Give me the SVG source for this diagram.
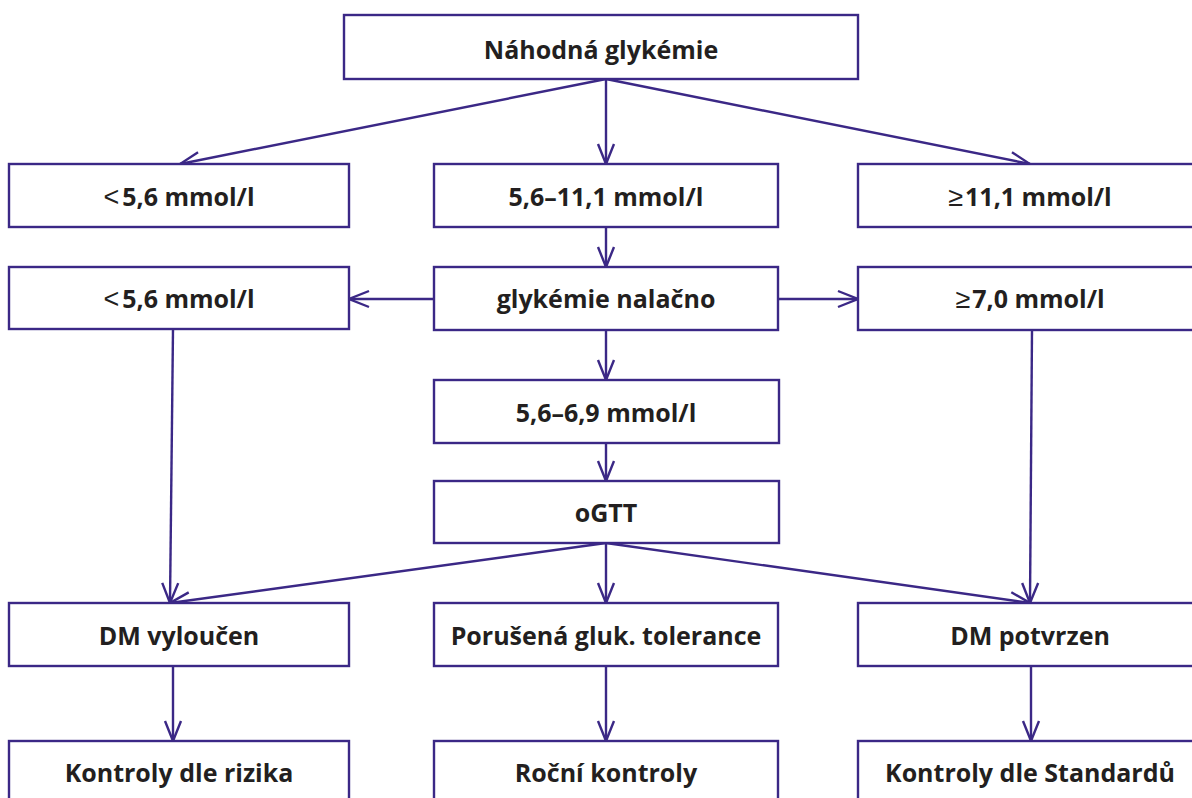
<svg xmlns="http://www.w3.org/2000/svg" width="1192" height="798" viewBox="0 0 1192 798">
<style>
.box{fill:#fff;stroke:#3b2886;stroke-width:2.4}
.t{font-family:"Open Sans","Liberation Sans",sans-serif;font-weight:700;font-size:25px;fill:#231f20;text-anchor:middle}
.sym{font-family:"Liberation Sans",sans-serif;font-weight:400;font-size:27px}
.c{fill:none;stroke:#3b2886;stroke-width:2.4}
</style>
<defs>
<marker id="a" viewBox="-22 -10 24 20" refX="0" refY="0" markerWidth="24" markerHeight="20" markerUnits="userSpaceOnUse" orient="auto">
<path d="M-20,-8 L0,0 L-20,8" fill="none" stroke="#3b2886" stroke-width="2.4"/>
</marker>
</defs>
<rect width="1192" height="798" fill="#fff"/>
<g id="connectors">
<line class="c" x1="606" y1="79" x2="180" y2="164" marker-end="url(#a)"/>
<line class="c" x1="606" y1="79" x2="606" y2="164" marker-end="url(#a)"/>
<line class="c" x1="606" y1="79" x2="1030" y2="164" marker-end="url(#a)"/>
<line class="c" x1="606" y1="227" x2="606" y2="267" marker-end="url(#a)"/>
<line class="c" x1="434" y1="299" x2="349" y2="299" marker-end="url(#a)"/>
<line class="c" x1="778" y1="299" x2="858" y2="299" marker-end="url(#a)"/>
<line class="c" x1="606" y1="330" x2="606" y2="380" marker-end="url(#a)"/>
<line class="c" x1="606" y1="443" x2="606" y2="481" marker-end="url(#a)"/>
<line class="c" x1="173" y1="329" x2="170" y2="603" marker-end="url(#a)"/>
<line class="c" x1="1032" y1="330" x2="1030" y2="603" marker-end="url(#a)"/>
<line class="c" x1="606" y1="543" x2="170" y2="603" marker-end="url(#a)"/>
<line class="c" x1="606" y1="543" x2="606" y2="603" marker-end="url(#a)"/>
<line class="c" x1="606" y1="543" x2="1030" y2="603" marker-end="url(#a)"/>
<line class="c" x1="173" y1="666" x2="173" y2="741" marker-end="url(#a)"/>
<line class="c" x1="606" y1="666" x2="606" y2="741" marker-end="url(#a)"/>
<line class="c" x1="1031" y1="666" x2="1031" y2="741" marker-end="url(#a)"/>
</g>
<g id="n1"><rect class="box" x="344" y="15" width="514" height="64"/><text class="t" x="601" y="58.5">Náhodná glykémie</text></g>
<g id="n2"><rect class="box" x="9" y="164" width="340" height="63"/><text class="t" x="179" y="206"><tspan class="sym">&lt;</tspan><tspan dx="3">5,6 mmol/l</tspan></text></g>
<g id="n3"><rect class="box" x="434" y="164" width="344" height="63"/><text class="t" x="606" y="206">5,6–11,1 mmol/l</text></g>
<g id="n4"><rect class="box" x="858" y="164" width="344" height="63"/><text class="t" x="1030" y="206"><tspan class="sym">≥</tspan><tspan dx="2">11,1 mmol/l</tspan></text></g>
<g id="n5"><rect class="box" x="9" y="267" width="340" height="62"/><text class="t" x="179" y="308"><tspan class="sym">&lt;</tspan><tspan dx="3">5,6 mmol/l</tspan></text></g>
<g id="n6"><rect class="box" x="434" y="267" width="344" height="63"/><text class="t" x="606" y="308">glykémie nalačno</text></g>
<g id="n7"><rect class="box" x="858" y="267" width="344" height="63"/><text class="t" x="1030" y="308"><tspan class="sym">≥</tspan><tspan dx="2">7,0 mmol/l</tspan></text></g>
<g id="n8"><rect class="box" x="434" y="380" width="345" height="63"/><text class="t" x="606" y="422">5,6–6,9 mmol/l</text></g>
<g id="n9"><rect class="box" x="434" y="481" width="345" height="62"/><text class="t" x="606" y="522">oGTT</text></g>
<g id="n10"><rect class="box" x="9" y="603" width="340" height="63"/><text class="t" x="179" y="645">DM vyloučen</text></g>
<g id="n11"><rect class="box" x="434" y="603" width="344" height="63"/><text class="t" x="606" y="645">Porušená gluk. tolerance</text></g>
<g id="n12"><rect class="box" x="858" y="603" width="344" height="63"/><text class="t" x="1030" y="645">DM potvrzen</text></g>
<g id="n13"><rect class="box" x="9" y="741" width="340" height="63"/><text class="t" x="179" y="782">Kontroly dle rizika</text></g>
<g id="n14"><rect class="box" x="434" y="741" width="344" height="63"/><text class="t" x="606" y="782">Roční kontroly</text></g>
<g id="n15"><rect class="box" x="858" y="741" width="344" height="63"/><text class="t" x="1030" y="782">Kontroly dle Standardů</text></g>
</svg>
